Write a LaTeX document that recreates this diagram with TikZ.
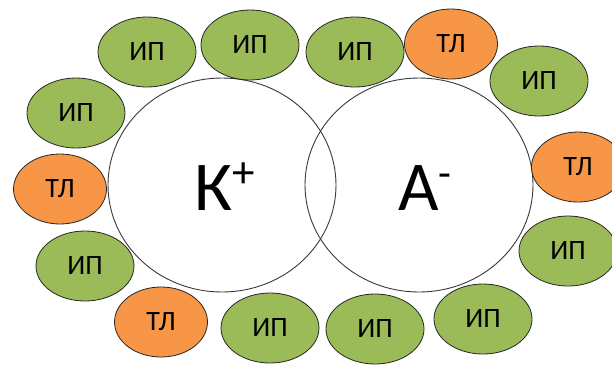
\documentclass[tikz,border=0pt]{standalone}
\usepackage{fontspec}
\setmainfont{Carlito}
\usetikzlibrary{shapes.geometric}
\definecolor{ipgreen}{HTML}{9BBB59}
\definecolor{tlorange}{HTML}{F79646}
\definecolor{ringgray}{HTML}{3A3A3A}
\tikzset{
  ion/.style={ellipse, draw=black!85, line width=0.8pt, inner sep=0pt,
    minimum width=98pt, minimum height=70pt,
    font=\fontsize{28}{32}\selectfont, text=black},
  ip/.style={ion, fill=ipgreen},
  tl/.style={ion, fill=tlorange, minimum width=93pt},
  bigring/.style={ellipse, draw=ringgray, line width=0.9pt, inner sep=0pt,
    minimum width=228pt, minimum height=214pt},
  biglabel/.style={anchor=base west, inner sep=0pt,
    font=\fontsize{70}{84}\selectfont}
}
\begin{document}
\begin{tikzpicture}[x=1pt,y=-1pt]
\useasboundingbox (0,0) rectangle (612,365);
\clip (0,0) rectangle (612,365);
\fill[white] (0,0) rectangle (612,365);
% big circles
\node[bigring] (K) at (222,185) {};
\node[bigring] (A) at (419,185) {};
\node[biglabel] (Klab) at (194,210) {К\raisebox{23pt}{\fontsize{45}{50}\selectfont +}};
\node[biglabel] (Alab) at (398,210) {А\raisebox{23pt}{\fontsize{42}{50}\selectfont -}};
% surrounding ions
\node[ip] (e1)  at (147,52)  {ИП};
\node[ip] (e2)  at (250,45)  {ИП};
\node[ip] (e3)  at (355,52)  {ИП};
\node[tl] (e4)  at (451,44)  {ТЛ};
\node[ip] (e5)  at (539,81)  {ИП};
\node[tl] (e6)  at (578,167) {ТЛ};
\node[ip] (e7)  at (568,251) {ИП};
\node[ip] (e8)  at (483,319) {ИП};
\node[ip] (e9)  at (375,329) {ИП};
\node[ip] (e10) at (270,328) {ИП};
\node[tl] (e11) at (161,322) {ТЛ};
\node[ip] (e12) at (85,266)  {ИП};
\node[tl] (e13) at (60,189)  {ТЛ};
\node[ip] (e14) at (76,113)  {ИП};
\end{tikzpicture}
\end{document}
